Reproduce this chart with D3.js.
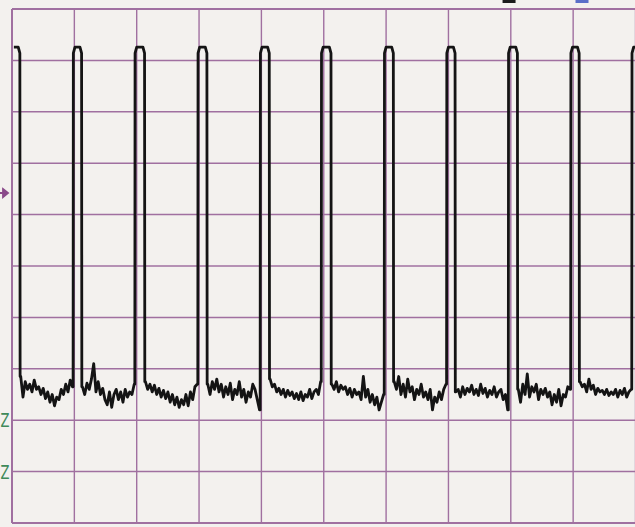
<!DOCTYPE html>
<html>
  <head>
    <meta charset="utf-8">
    <script type="text/javascript" src="https://d3js.org/d3.v7.min.js"></script>
    <style>
      html, body { margin: 0; padding: 0; background: #f3f1ee; overflow: hidden; }
      svg { display: block; }
    </style>
  </head>
  <body>
    <div id="scope"></div>
    <script>
      // screen is 10 x 10 divisions, values in divisions
      const divisions = [0, 1, 2, 3, 4, 5, 6, 7, 8, 9, 10];
      const highLevel = 9.26;
      const refMarker = 6.42;
      const sideLabels = [{ text: "Z", level: 2.0 }, { text: "Z", level: 1.0 }];

      // pulse edges (divisions), first pulse is already high at the left edge
      const riseTimes = [0.0, 0.98, 1.97, 2.98, 3.98, 4.96, 5.97, 6.97, 7.96, 8.96, 9.94];
      const fallTimes = [0.13, 1.12, 2.13, 3.13, 4.13, 5.12, 6.12, 7.11, 8.11, 9.10];

      // low level trace between pulses
      const lowSeg1 = [2.85, 2.45, 2.75, 2.6, 2.7, 2.55, 2.78, 2.6, 2.65, 2.5, 2.62, 2.42, 2.55, 2.35, 2.5, 2.28, 2.45, 2.4, 2.6, 2.5, 2.7, 2.55, 2.78, 2.65];
      const lowSeg2 = [2.65, 2.5, 2.72, 2.6, 2.8, 3.1, 2.55, 2.75, 2.5, 2.62, 2.4, 2.3, 2.55, 2.25, 2.5, 2.6, 2.4, 2.55, 2.35, 2.6, 2.45, 2.55, 2.5, 2.7];
      const lowSeg3 = [2.75, 2.6, 2.7, 2.55, 2.68, 2.5, 2.62, 2.45, 2.58, 2.42, 2.55, 2.35, 2.5, 2.3, 2.45, 2.25, 2.4, 2.3, 2.5, 2.28, 2.55, 2.4, 2.65, 2.7];
      const lowSeg4 = [2.7, 2.5, 2.75, 2.6, 2.8, 2.55, 2.7, 2.45, 2.65, 2.5, 2.72, 2.4, 2.6, 2.5, 2.75, 2.45, 2.6, 2.35, 2.55, 2.45, 2.7, 2.6, 2.4, 2.2];
      const lowSeg5 = [2.8, 2.65, 2.7, 2.55, 2.62, 2.5, 2.6, 2.45, 2.58, 2.48, 2.55, 2.42, 2.52, 2.4, 2.55, 2.38, 2.5, 2.45, 2.6, 2.42, 2.55, 2.6, 2.5, 2.75];
      const lowSeg6 = [2.7, 2.6, 2.75, 2.55, 2.68, 2.6, 2.65, 2.5, 2.62, 2.45, 2.6, 2.5, 2.55, 2.4, 2.85, 2.45, 2.6, 2.35, 2.5, 2.3, 2.45, 2.2, 2.35, 2.5];
      const lowSeg7 = [2.75, 2.6, 2.85, 2.5, 2.7, 2.45, 2.8, 2.55, 2.65, 2.4, 2.6, 2.5, 2.7, 2.45, 2.55, 2.4, 2.6, 2.2, 2.45, 2.35, 2.55, 2.4, 2.6, 2.7];
      const lowSeg8 = [2.55, 2.6, 2.45, 2.65, 2.5, 2.62, 2.55, 2.68, 2.5, 2.6, 2.48, 2.7, 2.52, 2.62, 2.45, 2.58, 2.5, 2.65, 2.45, 2.55, 2.6, 2.4, 2.5, 2.2];
      const lowSeg9 = [2.6, 2.35, 2.7, 2.5, 2.9, 2.45, 2.65, 2.55, 2.7, 2.4, 2.6, 2.5, 2.62, 2.45, 2.55, 2.3, 2.5, 2.35, 2.6, 2.28, 2.5, 2.45, 2.65, 2.6];
      const lowSeg10 = [2.75, 2.65, 2.7, 2.55, 2.8, 2.6, 2.68, 2.5, 2.62, 2.55, 2.58, 2.5, 2.6, 2.48, 2.55, 2.5, 2.6, 2.45, 2.58, 2.5, 2.62, 2.45, 2.55, 2.6];
      const lowSegs = [lowSeg1, lowSeg2, lowSeg3, lowSeg4, lowSeg5, lowSeg6, lowSeg7, lowSeg8, lowSeg9, lowSeg10];

      const W = 635, H = 527;
      const svg = d3.select("#scope").append("svg").attr("width", W).attr("height", H);
      svg.append("rect").attr("width", W).attr("height", H).attr("fill", "#f3f1ee");

      const x = d3.scaleLinear().domain([0, 10]).range([12, 635.5]);
      const y = d3.scaleLinear().domain([0, 10]).range([523, 9]);

      const gridColor = "#a070a0";

      // graticule
      svg.append("g").selectAll("line.v").data(divisions).join("line")
	  .attr("x1", d => x(d)).attr("x2", d => x(d))
	  .attr("y1", y(10)).attr("y2", y(0))
	  .attr("stroke", gridColor).attr("stroke-width", d => d == 0 ? 2 : 1.4);
      svg.append("g").selectAll("line.h").data(divisions).join("line")
	  .attr("x1", x(0)).attr("x2", x(10))
	  .attr("y1", d => y(d)).attr("y2", d => y(d))
	  .attr("stroke", gridColor).attr("stroke-width", d => (d == 0 || d == 10) ? 2 : 1.5);

      // build the trace
      let pts = [];
      const cap = 0.03;
      for (let i = 0; i < riseTimes.length; i++) {
	  let r = riseTimes[i];
	  let f = i < fallTimes.length ? fallTimes[i] : 10;
	  if (i > 0) pts.push([r, pts[pts.length - 1][1]]);
	  if (i > 0) pts.push([r + 0.004, highLevel - 0.12]);
	  pts.push([r + cap, highLevel]);
	  if (i < fallTimes.length) {
	      pts.push([f - cap, highLevel]);
	      pts.push([f - 0.004, highLevel - 0.12]);
	      let seg = lowSegs[i];
	      pts.push([f, seg[0]]);
	      let t0 = f + 0.01, t1 = riseTimes[i + 1] - 0.01;
	      seg.forEach((v, j) => pts.push([t0 + (t1 - t0) * j / (seg.length - 1), v]));
	  } else {
	      pts.push([10, highLevel]);
	  }
      }

      const line = d3.line().x(d => x(d[0])).y(d => y(d[1]));
      svg.append("path").datum(pts)
	  .attr("d", line)
	  .attr("fill", "none")
	  .attr("stroke", "#141414")
	  .attr("stroke-width", 2.8)
	  .attr("stroke-linejoin", "round");

      // reference marker on the left
      const my = y(refMarker);
      svg.append("path")
	  .attr("d", `M0,${my} L5,${my} M3,${my - 4} L8,${my} L3,${my + 4} Z`)
	  .attr("stroke", "#8a4a8a").attr("stroke-width", 1.8).attr("fill", "#8a4a8a");

      svg.append("g").selectAll("text").data(sideLabels).join("text")
	  .attr("x", 0.5).attr("y", d => y(d.level) + 7)
	  .attr("text-anchor", "start")
	  .attr("font-family", "DejaVu Sans, sans-serif")
	  .attr("font-size", 19)
	  .attr("textLength", 9)
	  .attr("lengthAdjust", "spacingAndGlyphs")
	  .attr("fill", "#3f8a5a")
	  .text(d => d.text);

      // cursor markers along the top edge
      const cursors = [{ t: 7.98, c: "#1b1b1b" }, { t: 9.15, c: "#5a6fc8" }];
      svg.append("g").selectAll("rect").data(cursors).join("rect")
	  .attr("x", d => x(d.t) - 7).attr("y", 0)
	  .attr("width", 13).attr("height", 3)
	  .attr("fill", d => d.c);
    </script>
  </body>
</html>
